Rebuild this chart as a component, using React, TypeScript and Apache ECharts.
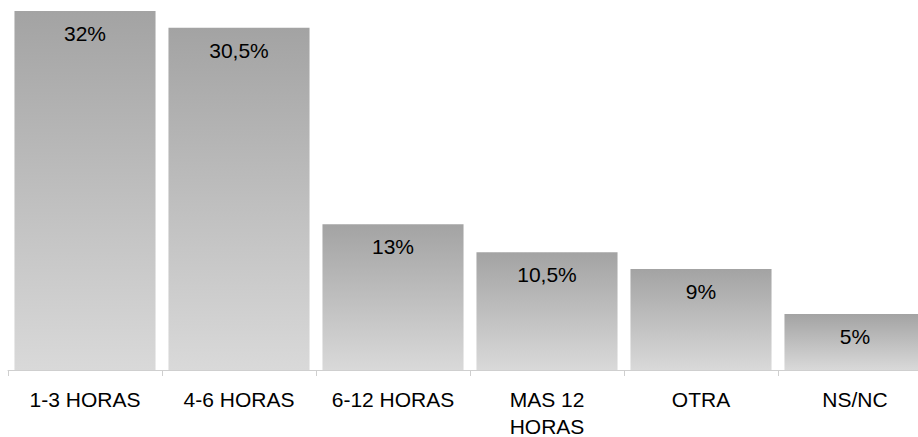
import React, { useEffect, useRef } from "react";
import * as echarts from "echarts";

const categories = ["1-3 HORAS", "4-6 HORAS", "6-12 HORAS", "MAS 12\nHORAS", "OTRA", "NS/NC"];
const values = [32, 30.5, 13, 10.5, 9, 5];
const valueLabels = ["32%", "30,5%", "13%", "10,5%", "9%", "5%"];

export default function App() {
  const ref = useRef<HTMLDivElement>(null);
  useEffect(() => {
    document.body.style.margin = "0";
    const chart = echarts.init(ref.current!, null, { renderer: "svg" });
    chart.setOption({
      animation: false,
      backgroundColor: "#ffffff",
      grid: {
        left: 8,
        top: 11,
        width: 924,
        height: 359,
        containLabel: false,
        outerBoundsMode: "none",
      },
      xAxis: {
        type: "category",
        data: categories,
        boundaryGap: true,
        axisLine: { show: true, lineStyle: { color: "#cfcfcf", width: 1 } },
        axisTick: { show: true, length: 6, lineStyle: { color: "#cfcfcf" } },
        axisLabel: {
          interval: 0,
          margin: 16,
          fontSize: 21,
          lineHeight: 27,
          color: "#000000",
          fontFamily: "Liberation Sans, Arial, sans-serif",
        },
      },
      yAxis: { type: "value", min: 0, max: 32, show: false, splitLine: { show: false } },
      series: [
        {
          type: "bar",
          data: values,
          barCategoryGap: "8.4%",
          itemStyle: {
            color: new echarts.graphic.LinearGradient(0, 0, 0, 1, [
              { offset: 0, color: "#a3a3a3" },
              { offset: 1, color: "#d9d9d9" },
            ]),
          },
          label: {
            show: true,
            position: "insideTop",
            distance: 12,
            fontSize: 21,
            color: "#000000",
            fontFamily: "Liberation Sans, Arial, sans-serif",
            formatter: (p: any) => valueLabels[p.dataIndex],
          },
        },
      ],
    });
    return () => chart.dispose();
  }, []);
  return <div ref={ref} style={{ width: 918, height: 437 }} />;
}
